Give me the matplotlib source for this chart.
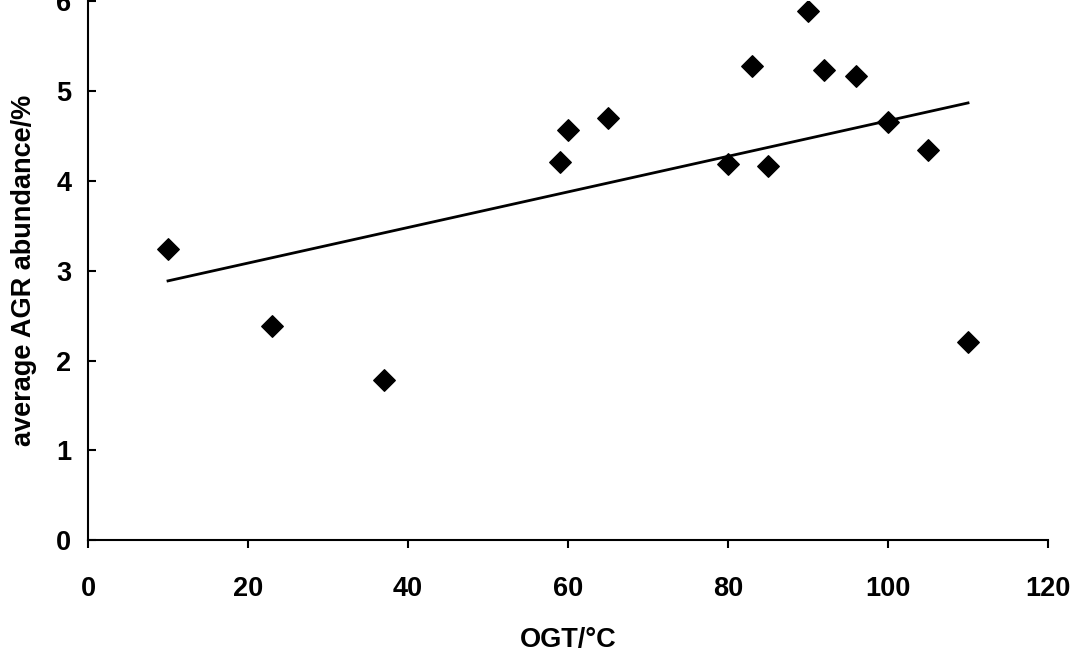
import matplotlib
matplotlib.use("Agg")
import matplotlib.pyplot as plt
import numpy as np

plt.rcParams['font.family'] = ['Liberation Sans', 'DejaVu Sans']
plt.rcParams['font.weight'] = 'bold'

ogt = [10, 23, 37, 59, 60, 65, 80, 83, 85, 90, 92, 96, 100, 105, 110]
agr = [3.24, 2.39, 1.78, 4.21, 4.57, 4.70, 4.19, 5.28, 4.17, 5.89, 5.23, 5.17, 4.66, 4.34, 2.21]

fig = plt.figure(figsize=(10.76, 6.5), dpi=100)
ax = fig.add_axes([0.0818, 0.169, 0.8922, 0.829])

ax.scatter(ogt, agr, marker="D", s=120, color="black", zorder=3)

coef = np.polyfit(ogt, agr, 1)
xs = np.array([min(ogt), max(ogt)])
ax.plot(xs, np.polyval(coef, xs), color="black", lw=2)

ax.set_xlim(0, 120)
ax.set_ylim(0, 6)
ax.set_xticks(range(0, 121, 20))
ax.set_yticks(range(0, 7))
for s in ["top", "right"]:
    ax.spines[s].set_visible(False)
for s in ["left", "bottom"]:
    ax.spines[s].set_linewidth(1.5)
ax.tick_params(direction="out", length=6, width=1.5, labelsize=19.5)
ax.tick_params(axis="x", pad=20)
ax.tick_params(axis="y", direction="in", pad=12)
ax.set_xlabel("OGT/°C", fontsize=19.5, fontweight="bold", labelpad=18)
ax.set_ylabel("average AGR abundance/%", fontsize=19.5, fontweight="bold", labelpad=14)

fig.savefig("out.png", dpi=100)
